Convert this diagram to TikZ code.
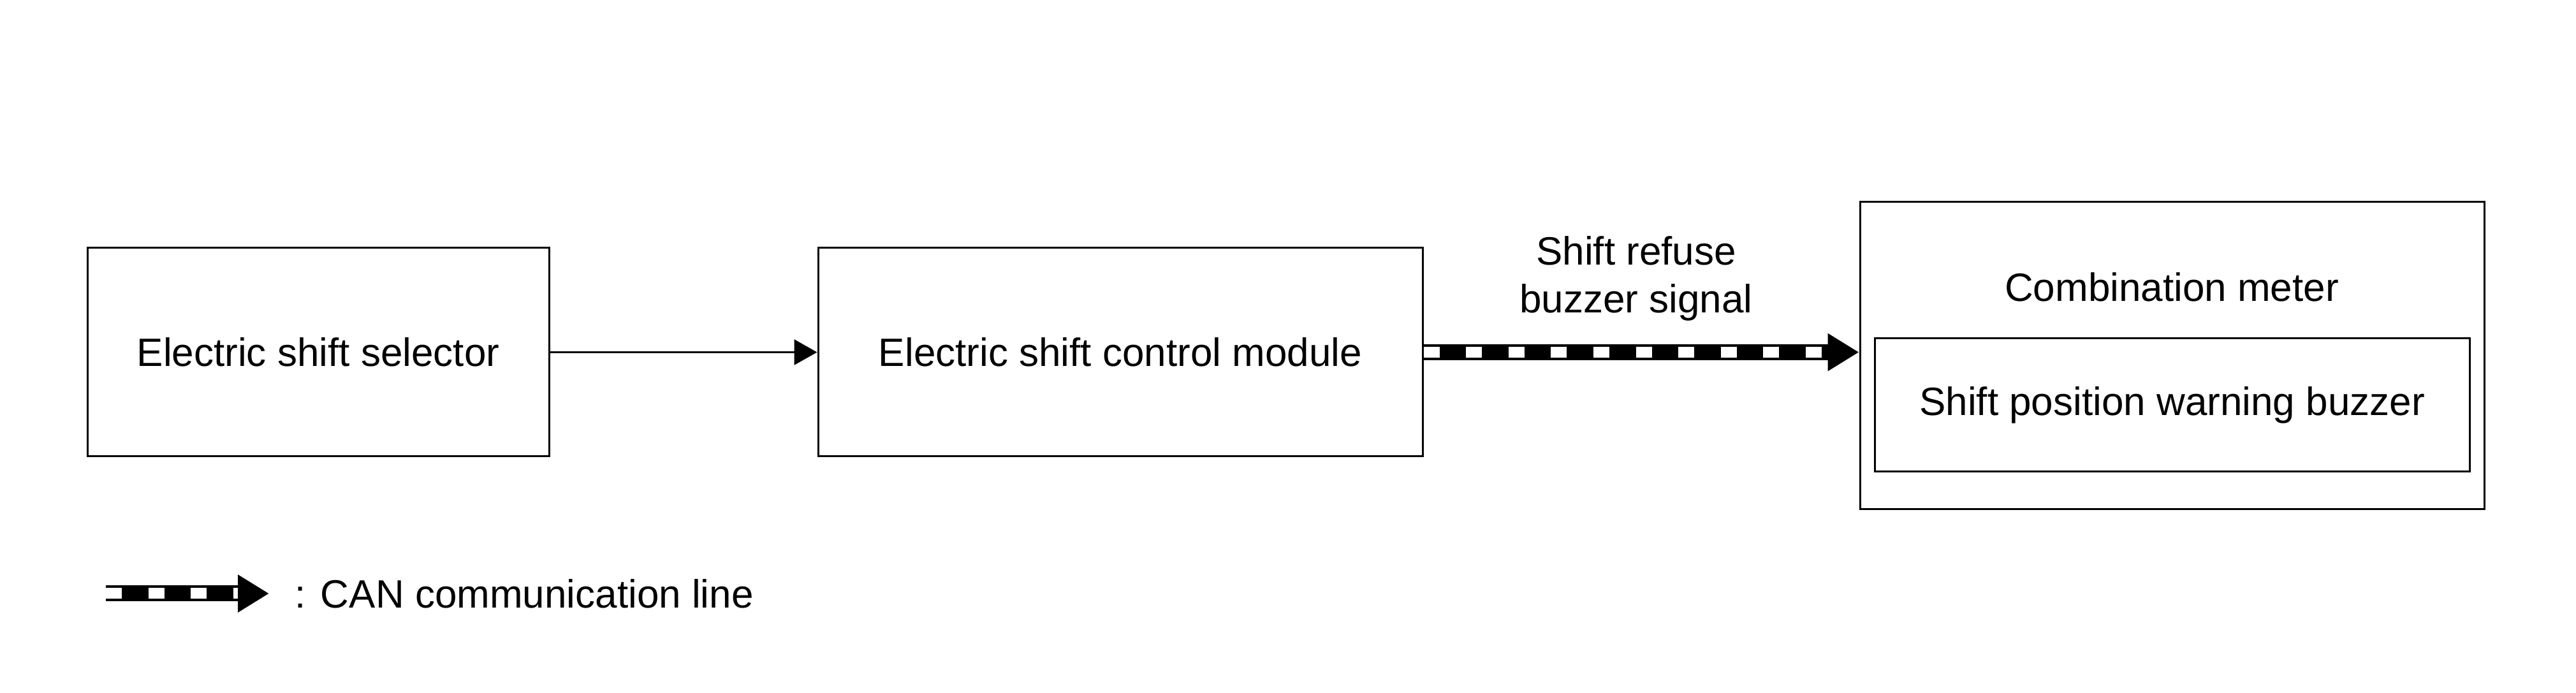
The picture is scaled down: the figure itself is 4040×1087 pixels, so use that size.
\documentclass[tikz,border=0pt]{standalone}
\usepackage{fontspec}
\setmainfont{Liberation Sans}
\usetikzlibrary{arrows.meta}
\begin{document}
\begin{tikzpicture}[x=0.25pt,y=-0.25pt,
  every node/.style={font=\fontsize{15.5}{18.7}\selectfont},
  box/.style={draw,line width=0.75pt,rectangle,inner sep=0pt},
  lbl/.style={inner sep=0pt,align=center},
  thinarrow/.style={line width=0.6pt,-{Triangle[length=9pt,width=10pt]}},
  canblack/.style={line width=6.25pt,-{Triangle[length=12.25pt,width=14pt]}},
  canwhite/.style={line width=4.25pt,white,dash pattern=on 6.25pt off 10.4pt,shorten >=12.25pt}
]
\useasboundingbox (0,0) rectangle (4040,1087);
\node[box,minimum width=724*0.25pt,minimum height=327*0.25pt] (sel) at (499,552.5) {Electric shift selector};
\node[box,minimum width=948*0.25pt,minimum height=327*0.25pt] (ecm) at (1757,552.5) {Electric shift control module};
\node[box,minimum width=979*0.25pt,minimum height=482*0.25pt] (meter) at (3406.5,558) {};
\node[lbl] (meterlbl) at (3406,450) {Combination meter};
\node[box,minimum width=933*0.25pt,minimum height=209*0.25pt] (buzzer) at (3406.5,635.5) {Shift position warning buzzer};
\node[lbl] (siglbl) at (2566,437) {Shift refuse\\buzzer signal};
\draw[thinarrow] (sel.east) -- (ecm.west);
\draw[canblack] (ecm.east) -- (ecm.east -| meter.west);
\draw[canwhite] (ecm.east) -- (ecm.east -| meter.west);
\coordinate (legA) at (166,931);
\coordinate (legB) at (422,931);
\draw[canblack] (legA) -- (legB);
\draw[canwhite] (legA) -- (legB);
\node[lbl,anchor=west] (leglbl) at (462,931) {: CAN communication line};
\end{tikzpicture}
\end{document}
